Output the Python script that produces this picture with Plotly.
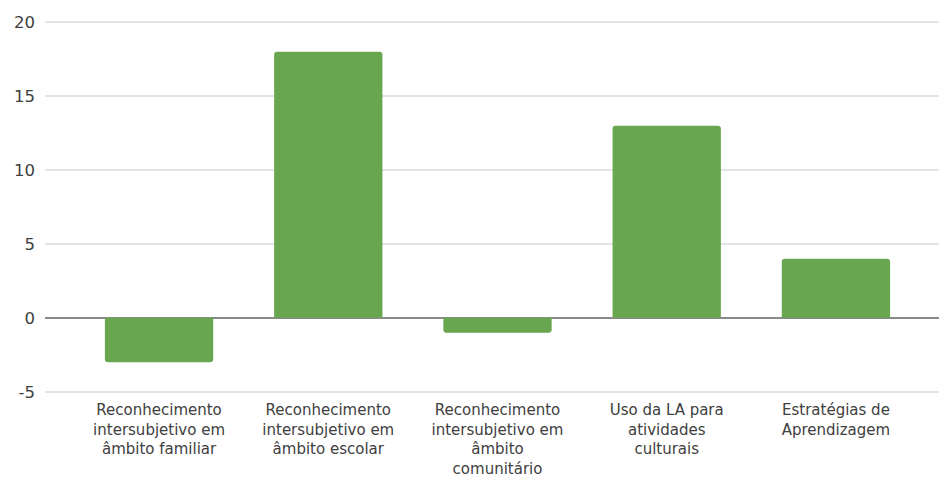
import plotly.graph_objects as go

categories = [
    "Reconhecimento<br>intersubjetivo em<br>âmbito familiar",
    "Reconhecimento<br>intersubjetivo em<br>âmbito escolar",
    "Reconhecimento<br>intersubjetivo em<br>âmbito<br>comunitário",
    "Uso da LA para<br>atividades<br>culturais",
    "Estratégias de<br>Aprendizagem",
]
values = [-3, 18, -1, 13, 4]
y_ticks = [-5, 0, 5, 10, 15, 20]
y_tick_labels = ["-5", "0", "5", "10", "15", "20"]

fig = go.Figure(
    go.Bar(
        x=list(range(len(categories))),
        y=values,
        marker=dict(color="#68a74f", line=dict(width=0), cornerradius=3),
        hoverinfo="skip",
    )
)

fig.update_layout(
    width=939,
    height=479,
    margin=dict(l=45, r=0, t=20, b=85),
    paper_bgcolor="white",
    plot_bgcolor="white",
    bargap=0.36,
    showlegend=False,
    font=dict(family="DejaVu Sans, Arial, sans-serif", color="#404040"),
)

fig.update_xaxes(
    range=[-0.674, 4.609],
    tickvals=list(range(len(categories))),
    ticktext=categories,
    tickfont=dict(size=15),
    showgrid=False,
    zeroline=False,
    showline=False,
    ticks="",
    ticklabelstandoff=5,
    automargin=False,
)

fig.update_yaxes(
    range=[-5.15, 20.15],
    tickvals=y_ticks,
    ticktext=y_tick_labels,
    tickfont=dict(size=16.5),
    showgrid=True,
    gridcolor="#e3e3e3",
    gridwidth=2,
    zeroline=True,
    zerolinecolor="#8a8a8a",
    zerolinewidth=2,
    ticks="",
    ticklabelstandoff=9,
    automargin=False,
)

fig.write_html("out.html")
